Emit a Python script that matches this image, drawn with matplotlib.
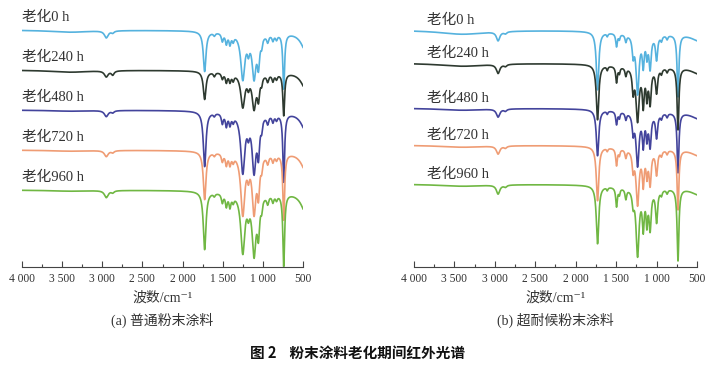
import numpy as np
import matplotlib
matplotlib.use("Agg")
import matplotlib.pyplot as plt

plt.rcParams.update({
    "font.family": ["Liberation Serif", "DejaVu Serif", "Noto Sans CJK SC"],
    "axes.linewidth": 0.8,
})

SERIES = ["老化0 h", "老化240 h", "老化480 h", "老化720 h", "老化960 h"]
COLORS = ["#55b2de", "#2e3a30", "#43449c", "#ef9c74", "#70b743"]

TICKS = [4000, 3500, 3000, 2500, 2000, 1500, 1000, 500]
TICK_LABELS = ["4 000", "3 500", "3 000", "2 500", "2 000", "1 500", "1 000", "500"]

# (a) ordinary powder coating: band centre / half width (cm-1) / depth per series
BANDS_A = [3400, 2950, 2870, 1725, 1605, 1505, 1455, 1410, 1370, 1250, 1180,
           1110, 1055, 1015, 940, 875, 830, 740, 1100, 450]
HW_A = [300, 28, 20, 20, 14, 14, 14, 14, 14, 30, 16, 28, 18, 12, 15, 14, 14, 13, 450, 80]
DEPTH_A = [
    [2, 7, 2, 40, 3, 8, 10, 10, 6, 45, 12, 42, 28, 8, 7, 6, 5, 55, 3, 22],
    [2, 6, 4, 28, 4, 6, 9, 8, 6, 33, 9, 33, 22, 7, 7, 7, 5, 42, 3, 20],
    [1, 6, 2, 55, 3, 10, 12, 10, 6, 58, 12, 55, 35, 10, 8, 7, 5, 68, 3, 22],
    [1, 6, 2, 48, 3, 8, 11, 10, 6, 60, 14, 56, 35, 10, 8, 7, 5, 66, 3, 22],
    [1, 7, 2, 58, 3, 9, 12, 12, 6, 58, 12, 58, 35, 10, 8, 7, 5, 72, 3, 24],
]
OFFSET_A = [237, 197, 157, 117, 77]

# (b) super-durable powder coating
BANDS_B = [3400, 2960, 2870, 1730, 1610, 1495, 1460, 1380, 1290, 1235, 1165,
           1120, 1080, 1000, 940, 870, 735, 1100, 450]
HW_B = [350, 25, 20, 18, 10, 12, 10, 12, 14, 22, 14, 12, 16, 15, 12, 12, 13, 450, 150]
DEPTH_B = [
    [4, 9, 2, 58, 3, 13, 5, 7, 18, 58, 28, 18, 32, 24, 5, 4, 62, 4, 10],
    [3, 9, 2, 55, 4, 16, 6, 8, 22, 52, 35, 26, 34, 24, 5, 4, 62, 4, 10],
    [2, 8, 2, 46, 3, 13, 6, 7, 18, 52, 30, 22, 32, 24, 5, 4, 60, 4, 10],
    [2, 8, 2, 54, 3, 17, 6, 8, 18, 54, 32, 22, 33, 24, 5, 4, 60, 4, 10],
    [2, 9, 2, 58, 3, 19, 6, 10, 13, 66, 36, 30, 38, 32, 5, 4, 72, 4, 10],
]
OFFSET_B = [237, 204, 159, 122, 83]


def spectrum(nu, offset, bands, hws, depths):
    y = np.full_like(nu, float(offset))
    for c, w, d in zip(bands, hws, depths):
        y -= d * w ** 2 / ((nu - c) ** 2 + w ** 2)
    return y


fig = plt.figure(figsize=(7.2, 3.65), dpi=100)
ax_a = fig.add_axes([22 / 720, 98 / 365, 281 / 720, 267 / 365])
ax_b = fig.add_axes([414 / 720, 98 / 365, 283 / 720, 267 / 365])

nu = np.linspace(4000, 500, 2000)
panels = [
    (ax_a, BANDS_A, HW_A, DEPTH_A, OFFSET_A, 13, 4000, "(a) 普通粉末涂料"),
    (ax_b, BANDS_B, HW_B, DEPTH_B, OFFSET_B, 10, 3840, "(b) 超耐候粉末涂料"),
]

for ax, bands, hws, depth, offs, gap, lx, sub in panels:
    for i, name in enumerate(SERIES):
        ax.plot(nu, spectrum(nu, offs[i], bands, hws, depth[i]),
                color=COLORS[i], lw=1.2)
        ax.text(lx, offs[i] + gap, name, fontsize=10.5, color="#333333",
                va="center", ha="left")
    ax.set_xlim(4000, 500)
    ax.set_ylim(0, 267)
    for s in ["top", "left", "right"]:
        ax.spines[s].set_visible(False)
    ax.spines["bottom"].set_color("#444444")
    ax.set_yticks([])
    ax.set_xticks(TICKS)
    ax.set_xticklabels(TICK_LABELS, fontsize=8.3, color="#333333")
    ax.set_xticks(np.arange(3750, 500, -500), minor=True)
    ax.tick_params(axis="x", which="major", direction="in", length=4,
                   width=0.8, color="#444444", pad=4)
    ax.tick_params(axis="x", which="minor", direction="in", length=2,
                   width=0.8, color="#444444")
    ax.patch.set_alpha(0)

    cx = (ax.get_position().x0 + ax.get_position().x1) / 2
    fig.text(cx, 1 - 298 / 365, "波数/cm⁻¹", fontsize=10, color="#333333",
             ha="center", va="center")
    fig.text(cx, 1 - 320 / 365, sub, fontsize=10, color="#333333",
             ha="center", va="center")

fig.text(358 / 720, 1 - 353 / 365, "图 2    粉末涂料老化期间红外光谱",
         fontsize=10.5, fontweight="bold", color="#111111",
         family=["Noto Sans CJK SC", "DejaVu Sans"], ha="center", va="center")

fig.savefig("out.png", dpi=100)
